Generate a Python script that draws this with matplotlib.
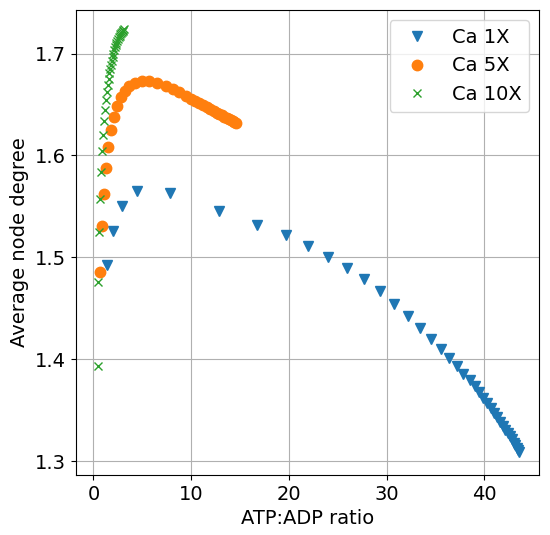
import numpy as np
from matplotlib import pyplot as plt

# Ca 1X
ratio_1x = [1.43, 2.05, 2.97, 4.5, 7.88, 12.9, 16.78, 19.68, 21.96, 24.04, 25.98, 27.7,
            29.36, 30.79, 32.22, 33.42, 34.58, 35.6, 36.42, 37.2, 37.85, 38.5, 39.05, 39.49,
            39.9, 40.3, 40.65, 41.0, 41.3, 41.6, 41.9, 42.15, 42.4, 42.6, 42.8, 43.0, 43.15,
            43.3, 43.45, 43.58]
degree_1x = [1.4925, 1.526, 1.5506, 1.565, 1.5633, 1.5457, 1.532, 1.5222, 1.5114, 1.5006, 1.4898, 1.4784,
             1.4667, 1.4545, 1.4424, 1.431, 1.4202, 1.4104, 1.4016, 1.3937, 1.3859, 1.3794, 1.3735, 1.368,
             1.3624, 1.3569, 1.3521, 1.3473, 1.3432, 1.339, 1.3349, 1.3312, 1.3275, 1.3245, 1.3215, 1.3185, 1.316,
             1.3135, 1.311, 1.309]

# Ca 5X
ratio_5x = [0.69, 0.89, 1.06, 1.3, 1.54, 1.78, 2.09, 2.46, 2.83, 3.24, 3.68, 4.27, 4.95, 5.7,
            6.55, 7.4, 8.12, 8.8, 9.45, 9.95, 10.4, 10.85, 11.25, 11.6, 11.95, 12.3, 12.6, 12.9,
            13.15, 13.4, 13.65, 13.85, 14.05, 14.25, 14.4, 14.57]
degree_5x = [1.4853, 1.5304, 1.5627, 1.5882, 1.6085, 1.6245, 1.6375, 1.6483, 1.6569, 1.6633, 1.668, 1.6712, 1.6728, 1.6731,
             1.6709, 1.6686, 1.6653, 1.662, 1.6584, 1.6558, 1.6535, 1.6512, 1.6491, 1.6473, 1.6455, 1.6437, 1.6421, 1.6406,
             1.6393, 1.638, 1.6367, 1.6357, 1.6346, 1.6336, 1.6328, 1.632]

# Ca 10X
ratio_10x = [0.45, 0.51, 0.61, 0.72, 0.75, 0.92, 1.02, 1.13, 1.2, 1.3, 1.37, 1.47, 1.57, 1.64,
             1.72, 1.8, 1.88, 1.96, 2.04, 2.12, 2.2, 2.28, 2.36, 2.44, 2.52, 2.6, 2.68, 2.76,
             2.84, 2.92, 3.0, 3.08, 3.16]
degree_10x = [1.3937, 1.4761, 1.5245, 1.5578, 1.5836, 1.6042, 1.6202, 1.6343, 1.6447, 1.6542, 1.6624, 1.6692, 1.6751, 1.6804,
              1.685, 1.689, 1.693, 1.697, 1.7, 1.703, 1.706, 1.708, 1.71, 1.712, 1.714, 1.716, 1.717, 1.719,
              1.72, 1.721, 1.722, 1.723, 1.724]

plt.rcParams['font.size'] = 14

fig, ax = plt.subplots(figsize=(5.5, 5.35), dpi=100)
fig.subplots_adjust(left=0.138, right=0.98, top=0.981, bottom=0.112)

ax.plot(ratio_1x, degree_1x, "v", markersize=7, label="Ca 1X")
ax.plot(ratio_5x, degree_5x, "o", markersize=7.5, label="Ca 5X")
ax.plot(ratio_10x, degree_10x, "x", markersize=6, label="Ca 10X")
ax.set_xlim(-1.79, 45.6)
ax.set_ylim(1.2866, 1.7425)
ax.set_xlabel("ATP:ADP ratio")
ax.set_ylabel("Average node degree")
ax.grid(True)
ax.legend(loc="upper right")

fig.savefig("out.png")
